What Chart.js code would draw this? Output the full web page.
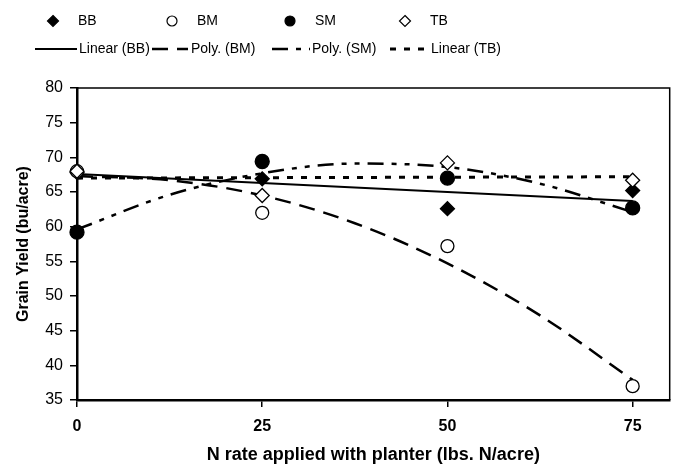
<!DOCTYPE html>
<html>
<head>
<meta charset="utf-8">
<title>Grain yield vs N rate</title>
<script src="https://cdn.jsdelivr.net/npm/chart.js@4/dist/chart.umd.min.js"></script>
<style>
  html, body { margin: 0; padding: 0; background: #fff; }
  #wrap { width: 678px; height: 467px; position: relative; }
</style>
</head>
<body>
<div id="wrap"><canvas id="yieldChart"></canvas></div>
<script>
// observed yields (bu/acre) at each N rate
var nRates = [0, 25, 50, 75];
var bbYield = [67.8, 66.9, 62.6, 65.2];
var bmYield = [68.0, 62.0, 57.2, 37.0];
var smYield = [59.2, 69.4, 67.0, 62.7];
var tbYield = [68.0, 64.5, 69.2, 66.7];

// trendlines
var linearRates = [0, 75];
var linearBB = [67.6, 63.7];
var linearTB = [67.0, 67.2];
var polyRates = [0, 12.5, 25, 37.5, 50, 62.5, 75];
var polyBM = [67.3, 66.7, 64.5, 60.5, 54.7, 47.2, 37.9];
var polySM = [59.6, 64.6, 67.7, 69.1, 68.6, 66.2, 62.1];

var xTicks = [0, 25, 50, 75];

(function () {
  "use strict";

  var FONT = "'Liberation Sans', Arial, sans-serif";

  function pairs(xs, ys) {
    return xs.map(function (x, i) { return { x: x, y: ys[i] }; });
  }

  // higher order is painted first, so TB ends up on top
  function markerSet(label, ys, style, filled, radius, order) {
    return {
      label: label,
      data: pairs(nRates, ys),
      order: order,
      clip: false,
      showLine: false,
      pointStyle: style,
      pointRadius: radius,
      pointHoverRadius: radius,
      pointBackgroundColor: filled ? "#000" : "#fff",
      pointBorderColor: "#000",
      pointBorderWidth: 1.3,
      legendKind: "point"
    };
  }

  function trendSet(label, xs, ys, dash, width, order) {
    return {
      label: label,
      data: pairs(xs, ys),
      order: order,
      showLine: true,
      borderColor: "#000",
      borderWidth: width,
      borderDash: dash,
      borderCapStyle: "butt",
      pointRadius: 0,
      pointHoverRadius: 0,
      fill: false,
      tension: 0.4,
      cubicInterpolationMode: "monotone",
      legendKind: "line"
    };
  }

  var datasets = [
    markerSet("BB", bbYield, "rectRot", true, 7, 4),
    markerSet("BM", bmYield, "circle", false, 6.5, 2),
    markerSet("SM", smYield, "circle", true, 7, 3),
    markerSet("TB", tbYield, "rectRot", false, 7, 1),
    trendSet("Linear (BB)", linearRates, linearBB, [], 2, 5),
    trendSet("Poly. (BM)", polyRates, polyBM, [16, 9], 2.5, 6),
    trendSet("Poly. (SM)", polyRates, polySM, [16, 8, 5, 8, 5, 8], 2.5, 7),
    trendSet("Linear (TB)", linearRates, linearTB, [6, 8], 3, 8)
  ];

  // legend slots: [sample start x, sample end x / marker x, text x, row y]
  var legendSlots = [
    [53, 53, 78, 21], [172, 172, 197, 21], [290, 290, 315, 21], [405, 405, 430, 21],
    [35, 77, 79, 49], [152, 188, 191, 49], [272, 310, 312, 49], [390, 428, 431, 49]
  ];

  function drawMarker(ctx, style, filled, x, y, r) {
    ctx.beginPath();
    if (style === "circle") {
      ctx.arc(x, y, r, 0, Math.PI * 2);
    } else {
      ctx.moveTo(x, y - r);
      ctx.lineTo(x + r, y);
      ctx.lineTo(x, y + r);
      ctx.lineTo(x - r, y);
      ctx.closePath();
    }
    ctx.fillStyle = filled ? "#000" : "#fff";
    ctx.fill();
    ctx.lineWidth = 1.2;
    ctx.strokeStyle = "#000";
    ctx.stroke();
  }

  var legendPlugin = {
    id: "excelLegend",
    afterDraw: function (chart) {
      var ctx = chart.ctx;
      ctx.save();
      ctx.font = "14px " + FONT;
      ctx.textBaseline = "middle";
      ctx.textAlign = "left";
      chart.data.datasets.forEach(function (ds, i) {
        var s = legendSlots[i];
        if (ds.legendKind === "point") {
          var r = ds.pointStyle === "circle" ? 5 : 5.5;
          drawMarker(ctx, ds.pointStyle, ds.pointBackgroundColor === "#000", s[1], s[3], r);
        } else {
          ctx.beginPath();
          ctx.setLineDash(ds.borderDash);
          ctx.lineWidth = ds.borderWidth;
          ctx.strokeStyle = "#000";
          ctx.moveTo(s[0], s[3]);
          ctx.lineTo(s[1], s[3]);
          ctx.stroke();
          ctx.setLineDash([]);
        }
        ctx.fillStyle = "#000";
        ctx.fillText(ds.label, s[2], s[3]);
      });
      ctx.restore();
    }
  };

  // top and right edges of the plot frame
  var framePlugin = {
    id: "plotFrame",
    beforeDatasetsDraw: function (chart) {
      var a = chart.chartArea;
      var ctx = chart.ctx;
      ctx.save();
      ctx.strokeStyle = "#000";
      ctx.lineWidth = 1.5;
      ctx.beginPath();
      ctx.moveTo(a.left, a.top);
      ctx.lineTo(a.right, a.top);
      ctx.lineTo(a.right, a.bottom);
      ctx.stroke();
      ctx.restore();
    }
  };

  new Chart(document.getElementById("yieldChart"), {
    type: "line",
    data: { datasets: datasets },
    plugins: [framePlugin, legendPlugin],
    options: {
      responsive: true,
      maintainAspectRatio: false,
      animation: false,
      layout: { padding: { top: 88, right: 7, left: 0, bottom: 0 } },
      plugins: {
        legend: { display: false },
        tooltip: { enabled: false }
      },
      scales: {
        x: {
          type: "linear",
          min: 0,
          max: 80,
          afterBuildTicks: function (scale) {
            scale.ticks = xTicks.map(function (v) { return { value: v }; });
          },
          afterFit: function (scale) { scale.height = 67; },
          grid: { drawOnChartArea: false, color: "#000", lineWidth: 1.5, tickLength: 7 },
          border: { color: "#000", width: 2.5 },
          ticks: {
            color: "#000",
            padding: 10,
            maxRotation: 0,
            font: { family: FONT, size: 16, weight: "bold" }
          },
          title: {
            display: true,
            text: "N rate applied with planter (lbs. N/acre)",
            color: "#000",
            padding: { top: 0, bottom: 1 },
            font: { family: FONT, size: 18, weight: "bold" }
          }
        },
        y: {
          min: 35,
          max: 80,
          afterFit: function (scale) { scale.width = 77; },
          grid: { drawOnChartArea: false, color: "#000", lineWidth: 1.5, tickLength: 7 },
          border: { color: "#000", width: 2.5 },
          ticks: {
            stepSize: 5,
            color: "#000",
            padding: 7,
            font: { family: FONT, size: 16 }
          },
          title: {
            display: true,
            text: "Grain Yield (bu/acre)",
            color: "#000",
            padding: { top: 14, bottom: 0 },
            font: { family: FONT, size: 16, weight: "bold" }
          }
        }
      }
    }
  });
})();
</script>
</body>
</html>
